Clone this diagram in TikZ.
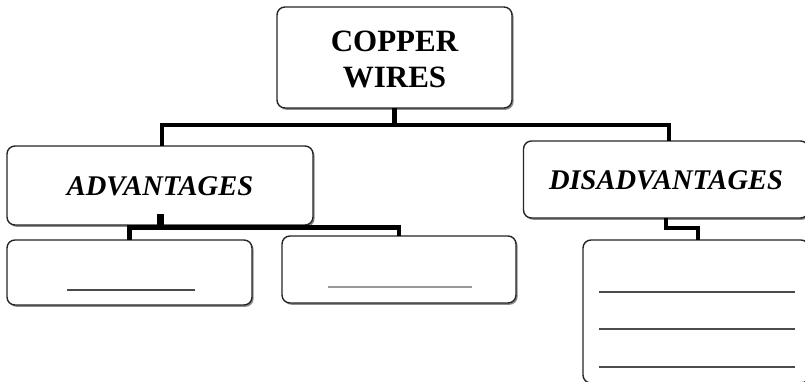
\documentclass[tikz,border=0pt]{standalone}
\usepackage{fontspec}
\setmainfont{Liberation Serif}
\usetikzlibrary{shadows}
\begin{document}
\begin{tikzpicture}[x=1pt,y=-1pt,
  box/.style={draw=black!85, line width=1.4pt, rounded corners=8pt, fill=white,
    drop shadow={shadow xshift=1.6pt, shadow yshift=-1.8pt, fill=black!45, opacity=1},
    inner sep=0pt, outer sep=0pt},
  conn/.style={draw=black, line width=4.2pt},
  blank/.style={draw=black!70, line width=1.1pt},
  title/.style={font=\fontsize{31}{36}\selectfont\bfseries, align=center},
  sub/.style={font=\fontsize{28.5}{30}\selectfont\bfseries\itshape}]
\clip (0,0) rectangle (805,382);
\fill[white] (0,0) rectangle (805,382);
% nodes
\node[box, minimum width=235pt, minimum height=101pt] (cw) at (394.5,57.5) {};
\node[title] (cwt) at (394.5,59) {COPPER\\WIRES};
\node[box, minimum width=306pt, minimum height=79pt] (adv) at (160,185.5) {};
\node[sub] (advt) at (160,186) {ADVANTAGES};
\node[box, minimum width=285pt, minimum height=77pt] (dis) at (666,179.5) {};
\node[sub] (dist) at (666,180) {DISADVANTAGES};
\node[box, minimum width=245pt, minimum height=65pt] (a1) at (129.5,272.5) {};
\node[box, minimum width=234pt, minimum height=67pt] (a2) at (399,269.5) {};
\node[box, minimum width=226pt, minimum height=143pt] (d1) at (696,311.5) {};
% connectors
\coordinate (bus) at (394.5,125);
\coordinate (advj) at (160,227.5);
\draw[conn] (cw.south) -- (bus);
\draw[conn] ([xshift=2pt]adv.north) |- (bus) -| ([xshift=3pt]dis.north);
\draw[conn] (a1.north) |- (advj) -| (a2.north);
\draw[line width=7pt] ([yshift=11pt]adv.south) -- (advj);
\draw[conn] (dis.south) -- ++(0,10) -| ([xshift=2pt]d1.north);
% blank lines
\draw[blank] (67,290) -- (195,290);
\draw[blank, draw=black!40] (328,287) -- (472,287);
\draw[blank] (599,292) -- (795,292);
\draw[blank] (599,329) -- (795,329);
\draw[blank] (599,367) -- (795,367);
\end{tikzpicture}
\end{document}
